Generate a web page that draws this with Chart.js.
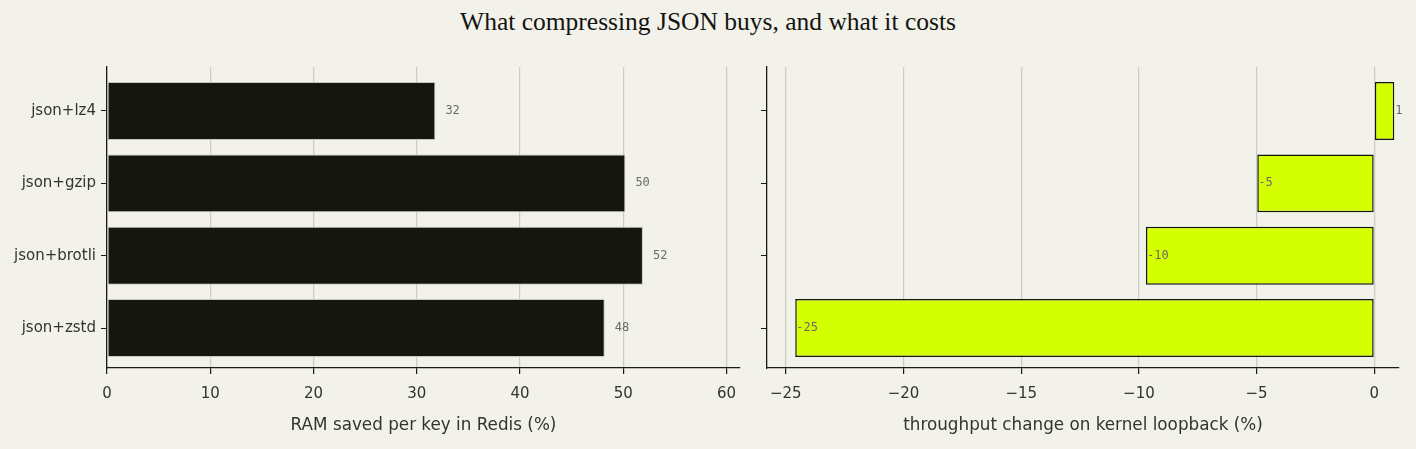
<!DOCTYPE html>
<html>
<head>
<meta charset="utf-8">
<script src="https://cdn.jsdelivr.net/npm/chart.js@4/dist/chart.umd.min.js"></script>
<style>
  html, body { margin:0; padding:0; background:#f2f1ea; }
  body { width:1416px; height:449px; position:relative; overflow:hidden; }
  #title { position:absolute; left:0; top:7px; width:1416px; text-align:center;
           font-family:"Liberation Serif","DejaVu Serif",serif; font-size:25.5px; color:#141410; }
  .box { position:absolute; top:50px; height:399px; }
  #b1 { left:0; width:750px; }
  #b2 { left:750px; width:666px; }
</style>
</head>
<body>
<div id="title">What compressing JSON buys, and what it costs</div>
<div class="box" id="b1"><canvas id="c1"></canvas></div>
<div class="box" id="b2"><canvas id="c2"></canvas></div>
<script>
const categories = ["json+lz4", "json+gzip", "json+brotli", "json+zstd"];
const ramSaved = [31.8, 50.2, 51.9, 48.2];
const throughputChange = [0.85, -4.97, -9.7, -24.6];
const ramTicks = [0, 10, 20, 30, 40, 50, 60];
const tpTicks = [-25, -20, -15, -10, -5, 0];
const leftTitle = "RAM saved per key in Redis (%)";
const rightTitle = "throughput change on kernel loopback (%)";

const tickFont = { family: "'DejaVu Sans', sans-serif", size: 15 };
const titleFont = { family: "'DejaVu Sans', sans-serif", size: 16.8 };
const ink = "#1a1a16";
const gridCol = "rgba(180,180,170,0.6)";

const labelPlugin = (offset) => ({
  id: 'vlabels',
  afterDatasetsDraw(chart) {
    const ctx = chart.ctx;
    const meta = chart.getDatasetMeta(0);
    const ds = chart.data.datasets[0].data;
    ctx.save();
    ctx.font = "12px 'DejaVu Sans Mono', 'Liberation Mono', monospace";
    ctx.fillStyle = "#6b6b66";
    ctx.textAlign = "left";
    ctx.textBaseline = "middle";
    meta.data.forEach((el, i) => {
      ctx.fillText(String(Math.round(ds[i].x)), el.x + offset, el.y);
    });
    ctx.restore();
  }
});

function makeChart(id, values, tickVals, min, max, title, bg, border, bw, showCats, yWidth, offset) {
  return new Chart(document.getElementById(id), {
    type: 'bar',
    data: {
      datasets: [{
        data: values.map((v, i) => ({ x: v, y: i })),
        backgroundColor: bg,
        borderColor: border,
        borderWidth: bw,
        borderSkipped: false,
        barPercentage: 0.8,
        categoryPercentage: 1.0
      }]
    },
    options: {
      indexAxis: 'y',
      responsive: true,
      maintainAspectRatio: false,
      animation: false,
      layout: { padding: { top: 17, right: showCats ? 10 : 17, bottom: 0, left: 0 } },
      plugins: { legend: { display: false }, tooltip: { enabled: false } },
      scales: {
        x: {
          type: 'linear',
          min: min, max: max,
          z: 1,
          afterBuildTicks(scale) { scale.ticks = tickVals.map(v => ({ value: v })); },
          afterFit(scale) { scale.height = 81; },
          ticks: {
            font: tickFont, color: "#333330", padding: 11,
            callback: (v) => String(v).replace('-', '\u2212')
          },
          grid: { color: gridCol, lineWidth: 1.2, tickColor: ink, tickLength: 6 },
          border: { color: ink, width: 1.3 },
          title: { display: true, text: title, font: titleFont, color: "#333330", padding: { top: 8, bottom: 13 } }
        },
        y: {
          type: 'linear',
          offset: false,
          min: -0.608, max: 3.552,
          reverse: true,
          afterBuildTicks(scale) { scale.ticks = categories.map((c, i) => ({ value: i })); },
          afterFit(scale) { scale.width = yWidth; },
          ticks: {
            font: tickFont, color: "#333330", padding: 5,
            callback: (v) => showCats ? categories[v] : ''
          },
          grid: { offset: false, drawOnChartArea: false, tickColor: ink, tickLength: 6 },
          border: { color: ink, width: 1.3 }
        }
      }
    },
    plugins: [labelPlugin(offset)]
  });
}

makeChart('c1', ramSaved, ramTicks, 0, 61.3, leftTitle, "#161610", "#c8c8c0", 1, true, 107, 10);
makeChart('c2', throughputChange, tpTicks, -25.8, 1.05, rightTitle, "#d4ff00", "#141410", 1.5, false, 17, 1);
</script>
</body>
</html>
